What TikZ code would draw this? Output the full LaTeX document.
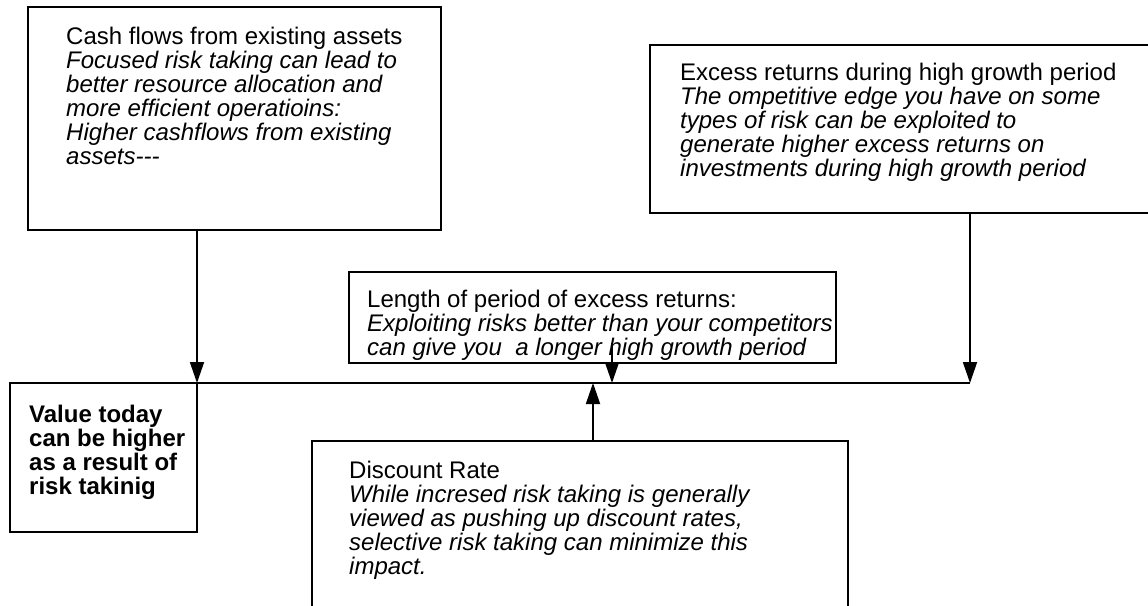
\documentclass[tikz,border=0pt]{standalone}
\usepackage{fontspec}
\setmainfont{Liberation Sans}
\usetikzlibrary{arrows, arrows.meta}
\usetikzlibrary{calc}

\tikzset{
  box/.style={draw, line width=1.8pt, inner sep=0pt, outer sep=0pt, anchor=north west},
  txt/.style={inner sep=0pt, anchor=north west, align=left, font=\fontsize{24}{24}\selectfont},
  arr/.style={line width=1.8pt, -{Triangle[length=21pt,width=14pt]}},
}

\begin{document}
\begin{tikzpicture}[x=1pt, y=-1pt]
      \useasboundingbox (0,0) rectangle (1148,605);
      \clip (0,0) rectangle (1148,605);

      \node[box, minimum width=413pt, minimum height=223pt] (cash) at (28,7) {};
      \node[box, minimum width=510pt, minimum height=168pt] (excess) at (650,45) {};
      \node[box, minimum width=487pt, minimum height=91pt] (length) at (349,272) {};
      \node[box, minimum width=187pt, minimum height=149pt] (value) at (10,383) {};
      \node[box, minimum width=536pt, minimum height=180pt] (disc) at (312,441) {};

      \node[txt] (cashtxt) at (66,26.5) {Cash flows from existing assets\\
        \textit{Focused risk taking can lead to}\\
        \textit{better resource allocation and}\\
        \textit{more efficient operatioins:}\\
        \textit{Higher cashflows from existing}\\
        \textit{assets-{}-{}-}};
      \node[txt] (excesstxt) at (680,63) {Excess returns during high growth period\\
        \textit{The ompetitive edge you have on some}\\
        \textit{types of risk can be exploited to}\\
        \textit{generate higher excess returns on}\\
        \textit{investments during high growth period}};
      \node[txt] (lengthtxt) at (367,290) {Length of period of excess returns:\\
        \textit{Exploiting risks better than your competitors}\\
        \textit{can give you\ \ a longer high growth period}};
      \node[txt, font=\fontsize{24}{24}\selectfont\bfseries] (valuetxt) at (29,405) {Value today\\
        can be higher\\
        as a result of\\
        risk takinig};
      \node[txt] (disctxt) at (349,461) {Discount Rate\\
        \textit{While incresed risk taking is generally}\\
        \textit{viewed as pushing up discount rates,}\\
        \textit{selective risk taking can minimize this}\\
        \textit{impact.}};

      \coordinate (join) at (970,383);
      \coordinate (lenfoot) at (612,343);
      \coordinate (discup) at (593,441);

      \draw[line width=1.8pt] (value.north east) -- (join);
      \draw[arr] (cash.south -| value.north east) -- (value.north east);
      \draw[arr] (excess.south -| join) -- (join);
      \draw[arr] (lenfoot) -- (lenfoot |- join);
      \draw[arr] (discup) -- (discup |- join);
\end{tikzpicture}
\end{document}
